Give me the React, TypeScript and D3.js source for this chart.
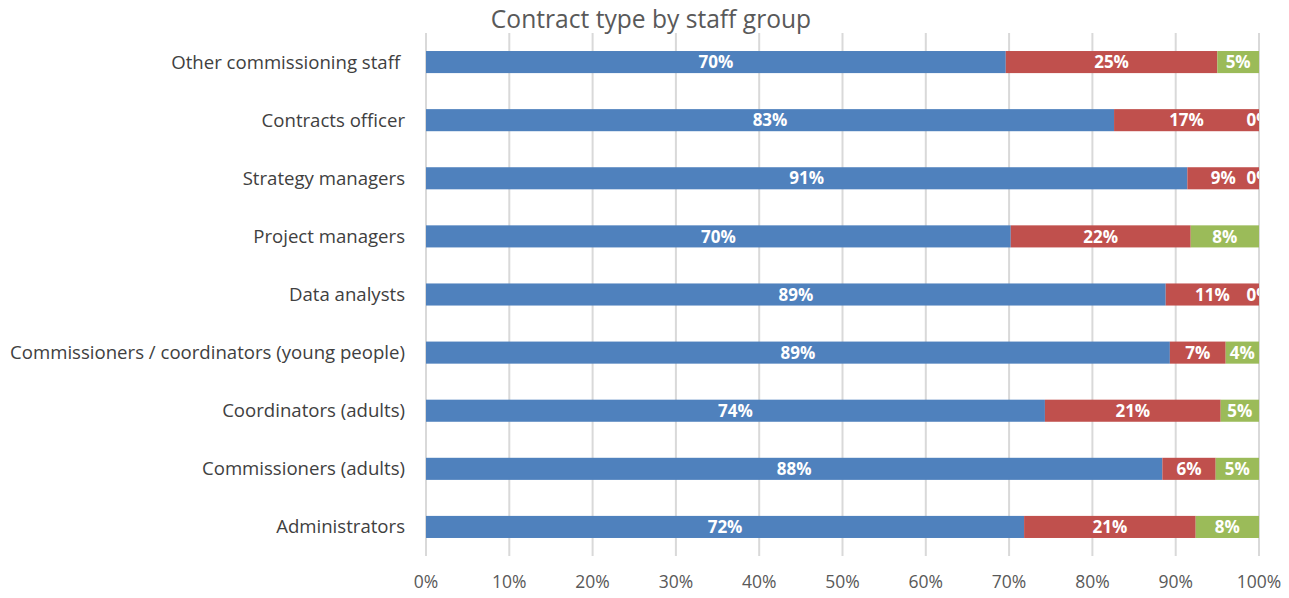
import React from "react";
import * as d3 from "d3";

const categories = [
  "Other commissioning staff ",
  "Contracts officer",
  "Strategy managers",
  "Project managers",
  "Data analysts",
  "Commissioners / coordinators (young people)",
  "Coordinators (adults)",
  "Commissioners (adults)",
  "Administrators",
];
const permanent = [69.6, 82.6, 91.4, 70.2, 88.8, 89.3, 74.3, 88.4, 71.8];
const fixedTerm = [25.4, 17.4, 8.6, 21.6, 11.2, 6.7, 21.1, 6.4, 20.6];
const other = [5.0, 0, 0, 8.2, 0, 4.0, 4.6, 5.2, 7.6];
const seriesNames = ["Permanent", "Fixed term", "Other"];
const seriesColors = ["#4F81BD", "#C0504D", "#9BBB59"];
const tickValues = [0, 10, 20, 30, 40, 50, 60, 70, 80, 90, 100];
const title = "Contract type by staff group";

const W = 1289;
const H = 598;
const margin = { left: 426, right: 30, top: 33, bottom: 42 };
const FONT = "'Open Sans', 'Noto Sans', sans-serif";

export default function App() {
  const x = d3.scaleLinear().domain([0, 100]).range([margin.left, W - margin.right]);
  const y = d3
    .scaleBand<string>()
    .domain(categories)
    .range([margin.top, H - margin.bottom])
    .paddingInner(0.62)
    .paddingOuter(0.31);

  const rows = categories.map((c, i) => ({
    cat: c,
    values: [permanent[i], fixedTerm[i], other[i]],
  }));
  const stack = d3
    .stack<{ cat: string; values: number[] }, number>()
    .keys([0, 1, 2])
    .value((d, k) => d.values[k]);
  const stacked = stack(rows);

  const x0 = x(0);
  const x1 = x(100);

  return (
    <svg width={W} height={H} style={{ display: "block", position: "absolute", left: 0, top: 0, background: "#fff" }}>
      <defs>
        <clipPath id="plotClip">
          <rect x={x0 - 2} y={0} width={x1 - x0 + 2} height={H} />
        </clipPath>
      </defs>
      <text x={651} y={27.5} textAnchor="middle" fontFamily={FONT} fontSize={24.6} fill="#595959">
        {title}
      </text>
      {tickValues.map((t) => (
        <line key={t} x1={x(t)} x2={x(t)} y1={margin.top} y2={H - margin.bottom} stroke="#D9D9D9" strokeWidth={2} />
      ))}
      {tickValues.map((t) => (
        <text key={"t" + t} x={x(t)} y={588} textAnchor="middle" fontFamily={FONT} fontSize={17.5} fill="#595959">
          {t + "%"}
        </text>
      ))}
      {categories.map((c) => (
        <text
          key={c}
          x={405}
          y={(y(c) as number) + y.bandwidth() / 2}
          dy="0.35em"
          textAnchor="end"
          fontFamily={FONT}
          fontSize={18.6}
          fill="#404040"
          style={{ whiteSpace: "pre" }}
        >
          {c}
        </text>
      ))}
      <g clipPath="url(#plotClip)">
        {stacked.map((s, si) =>
          s.map((d, i) => (
            <rect
              key={si + "-" + i}
              x={x(d[0])}
              y={y(categories[i]) as number}
              width={Math.max(0, x(d[1]) - x(d[0]))}
              height={y.bandwidth()}
              fill={seriesColors[si]}
            >
              <title>{seriesNames[si]}</title>
            </rect>
          ))
        )}
        {stacked.map((s, si) =>
          s.map((d, i) => (
            <text
              key={"l" + si + "-" + i}
              x={(x(d[0]) + x(d[1])) / 2}
              y={(y(categories[i]) as number) + y.bandwidth() / 2}
              dy="0.36em"
              textAnchor="middle"
              fontFamily={FONT}
              fontWeight="bold"
              fontSize={17}
              fill="#FFFFFF"
            >
              {Math.round(rows[i].values[si]) + "%"}
            </text>
          ))
        )}
      </g>
    </svg>
  );
}
